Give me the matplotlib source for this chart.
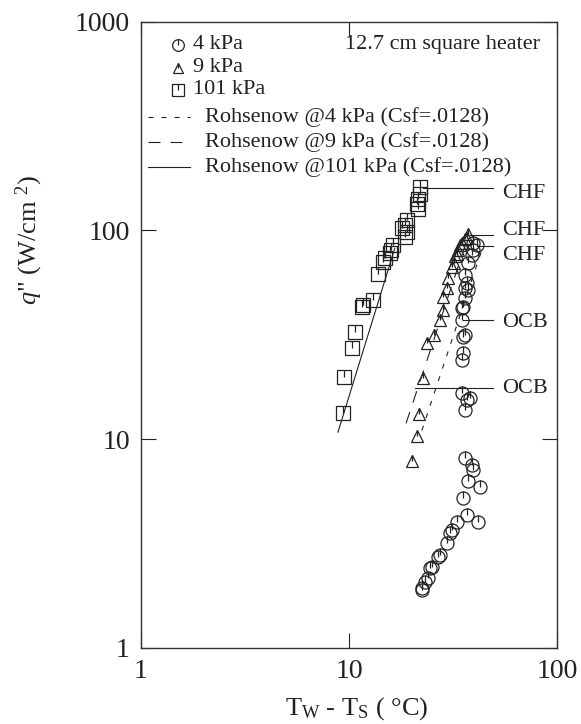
import matplotlib
matplotlib.use('Agg')
import matplotlib.pyplot as plt
from matplotlib.path import Path
from matplotlib.ticker import NullLocator

plt.rcParams['font.family'] = 'Liberation Serif'
plt.rcParams['mathtext.fontset'] = 'custom'
plt.rcParams['mathtext.rm'] = 'Liberation Serif'
plt.rcParams['mathtext.it'] = 'Liberation Serif:italic'
plt.rcParams['lines.scale_dashes'] = False

# --- data (Tw - Ts in C, q'' in W/cm2) ---
dt_4kpa = [39.6, 41.1, 39.6, 39.0, 37.5, 36.1, 36.8, 36.1, 37.5, 36.1,
           35.4, 34.8, 34.8, 36.1, 35.4, 35.4, 34.8, 34.8, 36.8, 38.2,
           36.1, 36.1, 39.0, 39.6, 37.5, 42.6, 35.4, 36.8, 41.9, 32.9,
           31.2, 30.6, 29.5, 27.4, 26.9, 25.0, 24.5, 24.1, 23.2, 22.4, 22.4]
q_4kpa = [86.7, 84.8, 80.2, 75.9, 69.5, 60.9, 55.7, 52.7, 51.6, 47.3,
          42.8, 42.4, 37.1, 31.5, 30.8, 25.8, 23.9, 16.6, 15.4, 15.7,
          13.8, 8.1, 7.5, 7.1, 6.3, 5.9, 5.2, 4.33, 4.0, 4.0,
          3.67, 3.55, 3.18, 2.79, 2.72, 2.45, 2.41, 2.16, 2.07, 1.94, 1.90]

dt_9kpa = [37.5, 36.8, 36.1, 35.0, 34.2, 33.4, 33.0, 32.4, 31.8, 31.3,
           30.0, 29.5, 28.4, 28.3, 27.4, 25.6, 23.7, 22.8, 21.7, 21.2, 20.0]
q_9kpa = [95.7, 92.0, 90.5, 87.0, 84.8, 80.2, 77.0, 75.1, 70.0, 66.6,
          58.9, 52.7, 47.8, 41.4, 37.1, 31.5, 28.8, 19.7, 13.2, 10.3, 7.9]

dt_101kpa = [9.4, 9.45, 10.3, 10.7, 11.5, 11.7, 13.1, 13.8, 14.6, 14.9,
             15.7, 16.0, 16.3, 18.6, 18.9, 17.9, 18.6, 18.9, 21.2, 21.5,
             21.5, 21.9, 21.9]
q_101kpa = [13.3, 19.9, 27.2, 32.6, 42.9, 43.7, 46.2, 62.0, 70.5, 74.0,
            78.0, 80.2, 84.8, 93.0, 111.6, 103.0, 106.0, 98.0, 134.0, 127.0,
            142.0, 150.0, 161.0]

# Rohsenow correlation lines (end points)
rohs_4_dt = [22.4, 43.4]
rohs_4_q = [11.0, 80.0]
rohs_9_dt = [18.8, 37.6]
rohs_9_q = [11.9, 95.0]
rohs_101_dt = [8.85, 16.6]
rohs_101_q = [10.8, 82.0]

# CHF / OCB callouts
note_labels = ['CHF', 'CHF', 'CHF', 'OCB', 'OCB']
note_line_q = [158.8, 94.6, 83.8, 37.1, 17.5]
note_line_start = [22.7, 38.2, 41.1, 35.3, 20.8]
note_line_end = 49.3
note_text_dt = 54.4
note_text_q = [150.0, 100.0, 75.9, 36.3, 17.5]

ink = '#222222'
tick_mark = Path([(0, 0), (0, 1)], [Path.MOVETO, Path.LINETO])

fig = plt.figure(figsize=(5.81, 7.24), dpi=100)
ax = fig.add_axes([0.2427, 0.105, 0.716, 0.8653])


def ticked(x, y, marker, size, **kw):
    ax.plot(x, y, ls='none', marker=marker, ms=size, mfc='none', mec=ink, mew=0.9, **kw)
    ax.plot(x, y, ls='none', marker=tick_mark, ms=size, mfc='none', mec=ink, mew=0.9, **kw)


ticked(dt_4kpa, q_4kpa, 'o', 9.4)
ticked(dt_9kpa, q_9kpa, '^', 8.6)
ticked(dt_101kpa, q_101kpa, 's', 9.6)

ax.plot(rohs_4_dt, rohs_4_q, color=ink, lw=0.8, dashes=(3.6, 5.8))
ax.plot(rohs_9_dt, rohs_9_q, color=ink, lw=0.8, dashes=(8.6, 7.2))
ax.plot(rohs_101_dt, rohs_101_q, color=ink, lw=0.8)

for lab, ql, x0, qt in zip(note_labels, note_line_q, note_line_start, note_text_q):
    ax.plot([x0, note_line_end], [ql, ql], color=ink, lw=0.8)
    ax.text(note_text_dt, qt, lab, fontsize=16, va='center', ha='left', color=ink)

# legend, laid out by hand like the original
ta = ax.transAxes
for marker, size, label, fy in [('o', 8.4, '4 kPa', 0.9625),
                                ('^', 7.8, '9 kPa', 0.9258),
                                ('s', 8.6, '101 kPa', 0.8907)]:
    ticked([0.089], [fy], marker, size, transform=ta)
    ax.text(0.125, fy, label, transform=ta, fontsize=16, va='center', color=ink)

for dash, label, fy in [((3.6, 5.8), 'Rohsenow @4 kPa (Csf=.0128)', 0.8476),
                        ((8.6, 7.2), 'Rohsenow @9 kPa (Csf=.0128)', 0.8077),
                        (None, 'Rohsenow @101 kPa (Csf=.0128)', 0.7678)]:
    kw = {'dashes': dash} if dash else {}
    ax.plot([0.017, 0.118], [fy, fy], transform=ta, color=ink, lw=0.8, **kw)
    ax.text(0.154, fy, label, transform=ta, fontsize=16, va='center', color=ink)

ax.text(0.490, 0.9625, '12.7 cm square heater', transform=ta, fontsize=16,
        va='center', color=ink)

ax.set_xscale('log')
ax.set_yscale('log')
ax.set_xlim(1, 100)
ax.set_ylim(1, 1000)
ax.set_xticks([1, 10, 100])
ax.set_xticklabels(['1', '10', '100'])
ax.set_yticks([1, 10, 100, 1000])
ax.set_yticklabels(['1', '10', '100', '1000'])
ax.xaxis.set_minor_locator(NullLocator())
ax.yaxis.set_minor_locator(NullLocator())
ax.tick_params(which='major', direction='in', length=11, width=0.8, top=True,
               right=True, labelsize=20, pad=8, color=ink, labelcolor=ink)
ax.get_yticklabels()[0].set_y(1.1)
for s in ax.spines.values():
    s.set_linewidth(1.0)
    s.set_color('#333333')

ax.set_ylabel(r'$q$" (W/cm $^{2}$)', fontsize=19, color=ink)
ax.yaxis.set_label_coords(-0.231, 0.651)
ax.set_xlabel(r"T$_{\rm W}$ - T$_{\rm S}$ ( °C)", fontsize=19, color=ink)
ax.xaxis.set_label_coords(0.518, -0.075)

fig.savefig('out.png', dpi=100)
